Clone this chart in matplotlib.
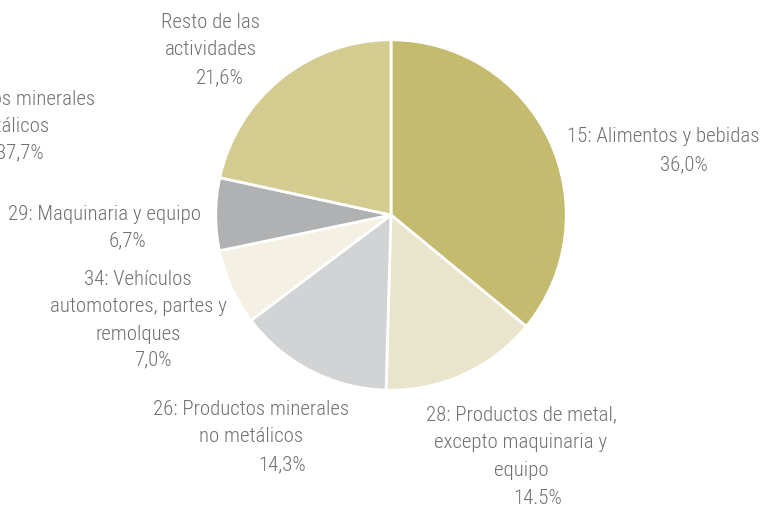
import matplotlib
matplotlib.use('Agg')
import matplotlib.pyplot as plt
from matplotlib import font_manager
from matplotlib.font_manager import FontProperties

# Datos
categorias = ['15: Alimentos y bebidas',
              '28: Productos de metal,\nexcepto maquinaria y\nequipo',
              '26: Productos minerales\nno metálicos',
              '34: Vehículos\nautomotores, partes y\nremolques',
              '29: Maquinaria y equipo',
              'Resto de las\nactividades']
valores = [36.0, 14.5, 14.3, 7.0, 6.7, 21.6]
etiquetas_pct = ['36,0%', '14.5%', '14,3%', '7,0%', '6,7%', '21,6%']
colores = ['#C4BB6F', '#E9E5CC', '#D2D3D5', '#F4F0E3', '#B0B1B3', '#D4CB91']

# Posiciones (pixeles desde arriba a la izquierda): nombre y porcentaje
pos_nombre = [(663, 136), (521, 443), (251, 423), (138, 307), (105, 215), (211, 36)]
pos_pct = [(684, 165), (538, 498), (282, 465), (153, 360), (127, 241), (220, 78)]

# Fuente condensada
archivos = {f.fname.split('/')[-1]: f.fname for f in font_manager.fontManager.ttflist}
fp = FontProperties(family='DejaVu Sans', stretch='condensed')
for nombre in ['RobotoCondensed-Light.ttf', 'BarlowCondensed-Light.ttf',
               'DejaVuSansCondensed.ttf']:
    if nombre in archivos:
        fp = FontProperties(fname=archivos[nombre])
        break
fp.set_size(15)

W, H = 773, 509
fig = plt.figure(figsize=(W / 100, H / 100), dpi=100)
cx, cy, r = 391, 215, 177
ax = fig.add_axes([(cx - r) / W, (H - cy - r) / H, 2 * r / W, 2 * r / H])
ax.pie(valores, colors=colores, startangle=90, counterclock=False,
       wedgeprops=dict(edgecolor='white', linewidth=2))
ax.set_xlim(-1.01, 1.01)
ax.set_ylim(-1.01, 1.01)
ax.set_aspect('equal')
ax.axis('off')

gris = '#707070'


def texto(x, y, s):
    fig.text(x / W, 1 - y / H, s, ha='center', va='center',
             fontproperties=fp, color=gris, linespacing=1.58)


for cat, pct, pn, pp in zip(categorias, etiquetas_pct, pos_nombre, pos_pct):
    texto(*pn, cat)
    texto(*pp, pct)

# Etiqueta cortada de otro gráfico en el borde izquierdo
texto(-3, 113, '26: Productos minerales\nno metálicos')
texto(20, 153, '37,7%')

fig.savefig('out.png', dpi=100)
